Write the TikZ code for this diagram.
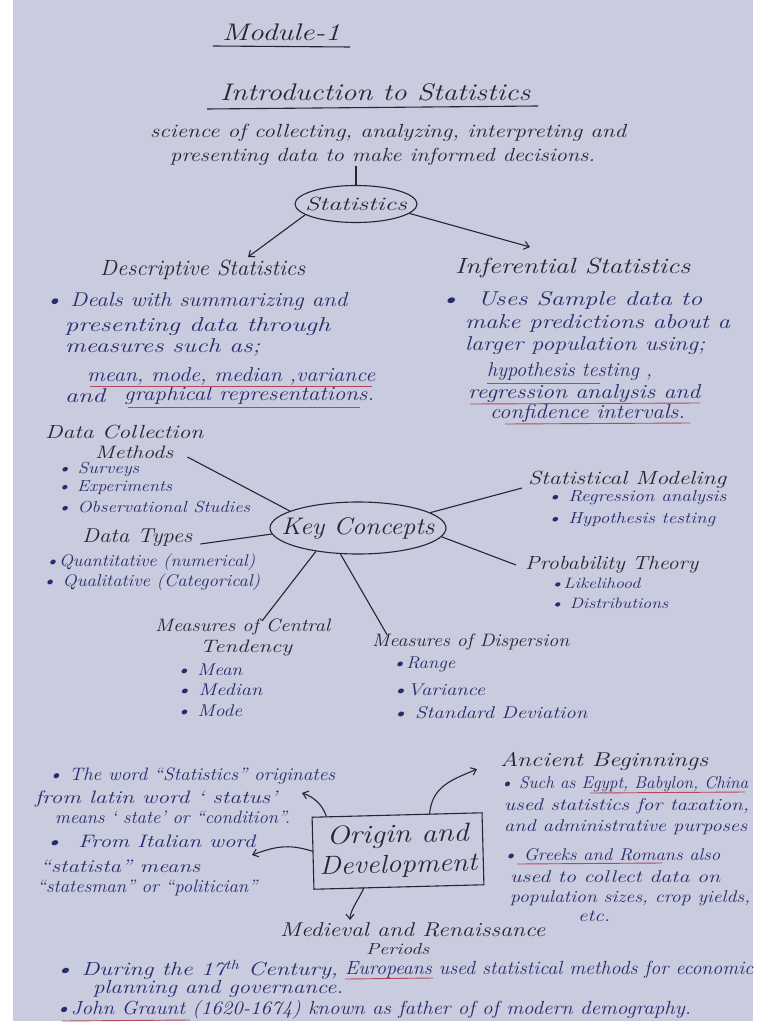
\documentclass[tikz,border=0pt]{standalone}
\usetikzlibrary{shapes.geometric,arrows.meta}
\definecolor{paper}{RGB}{201,203,222}
\definecolor{inkc}{RGB}{38,38,48}
\definecolor{bluec}{RGB}{42,42,108}
\definecolor{redc}{RGB}{178,72,92}
\newcommand{\fw}[2]{\resizebox{#1pt}{\height}{#2}}
\begin{document}
\begin{tikzpicture}[x=1pt,y=-1pt,
  txt/.style={inner sep=0pt, anchor=west, font=\fontsize{#1}{#1}\selectfont\itshape},
  ink/.style={txt=#1, text=inkc},
  blu/.style={txt=#1, text=bluec},
  conn/.style={draw=inkc, line width=1.1pt},
  arr/.style={conn, -{Straight Barb[length=5pt,width=8pt]}},
  redline/.style={draw=redc, line width=0.9pt},
  inkline/.style={draw=inkc, line width=1.1pt},
  oval/.style={ellipse, draw=inkc, line width=1.1pt, inner sep=0pt}]
\useasboundingbox (0,0) rectangle (768,1024);
\fill[white] (0,0) rectangle (768,1024);
\fill[paper] (13,0) rectangle (753,1021);

% ---------- titles ----------
\node[ink=24] (mod) at (222,32) {\fw{118}{Module-1}};
\draw[inkline] (213,46) -- (350,47);
\node[ink=24] (intro) at (220,92) {\fw{310}{Introduction to Statistics}};
\draw[inkline] (207,109) -- (538,106);
\node[ink=19] (def1) at (150,133) {\fw{476}{science of collecting, analyzing, interpreting and}};
\node[ink=19] (def2) at (170,157) {\fw{425}{presenting data to make informed decisions.}};

% ---------- Statistics ----------
\node[oval, minimum width=122pt, minimum height=37pt] (stat) at (356,204) {};
\node[ink=19, anchor=center] (statT) at (stat) {\fw{102}{Statistics}};
\draw[conn] (stat.north) -- (stat.north |- def2.south);
\coordinate (dTip) at (248,257);
\coordinate (iTip) at (530,247);
\draw[arr] (stat.192) -- (dTip);
\draw[arr] (stat.350) -- (iTip);

\node[ink=22] (desc) at (100,270) {\fw{205}{Descriptive Statistics}};
\node[ink=22] (infer) at (455,268) {\fw{235}{Inferential Statistics}};

\node[blu=20] (d1) at (45,302) {\fw{302}{\textbullet\ Deals with summarizing and}};
\node[blu=20] (d2) at (65,327) {\fw{265}{presenting data through}};
\node[blu=20] (d3) at (65,347) {\fw{195}{measures such as;}};
\node[blu=20] (d4) at (87,376) {\fw{288}{mean, mode, median ,variance}};
\node[blu=20] (d5a) at (65,396) {\fw{40}{and}};
\node[blu=20] (d5b) at (124,396) {\fw{250}{graphical representations.}};
\draw[redline] (90,386) -- (372,386);
\draw[redline] (128,407) -- (360,407);

\node[blu=20] (i1) at (440,300) {\fw{262}{\textbullet\ \ Uses Sample data to}};
\node[blu=20] (i2) at (465,323) {\fw{265}{make predictions about a}};
\node[blu=20] (i3) at (465,346) {\fw{240}{larger population using;}};
\node[blu=20] (i4) at (487,372) {\fw{165}{hypothesis testing ,}};
\node[blu=20] (i5) at (468,394) {\fw{232}{regression analysis and}};
\node[blu=20] (i6) at (490,413) {\fw{195}{confidence intervals.}};
\draw[redline] (487,383) -- (600,383);
\draw[redline] (470,404) -- (700,403);
\draw[redline] (505,424) -- (690,423);

% ---------- Key Concepts ----------
\node[oval, minimum width=176pt, minimum height=52pt] (kc) at (358,528) {};
\node[ink=24, anchor=center] (kcT) at (kc) {\fw{153}{Key Concepts}};

\node[ink=19] (dc) at (45,432) {\fw{158}{Data Collection}};
\node[ink=18] (meth) at (95,452) {\fw{78}{Methods}};
\node[blu=16] (dc1) at (57,469) {\fw{82}{\textbullet\ Surveys}};
\node[blu=16] (dc2) at (57,488) {\fw{115}{\textbullet\ Experiments}};
\node[blu=16] (dc3) at (57,507) {\fw{193}{\textbullet\ Observational Studies}};
\draw[conn] ([xshift=14pt,yshift=-5pt]meth.east) -- (kc.166);

\node[ink=20] (dt) at (82,538) {\fw{110}{Data Types}};
\node[blu=17] (dt1) at (45,562) {\fw{210}{\textbullet Quantitative (numerical)}};
\node[blu=17] (dt2) at (42,582) {\fw{218}{\textbullet\ Qualitative (Categorical)}};
\draw[conn] ([xshift=8pt,yshift=-6pt]dt.east) -- (kc.184);

\node[ink=18] (mc) at (155,627) {\fw{175}{Measures of Central}};
\node[ink=18] (mc2) at (200,648) {\fw{92}{Tendency}};
\node[blu=17] (mc3) at (176,670) {\fw{66}{\textbullet\ Mean}};
\node[blu=17] (mc4) at (176,690) {\fw{86}{\textbullet\ Median}};
\node[blu=17] (mc5) at (176,711) {\fw{66}{\textbullet\ Mode}};
\coordinate (cTip) at (262,621);
\draw[conn] (kc.209) -- (cTip);

\node[ink=18] (md) at (372,642) {\fw{197}{Measures of Dispersion}};
\node[blu=17] (md1) at (392,664) {\fw{63}{\textbullet Range}};
\node[blu=17] (md2) at (392,690) {\fw{93}{\textbullet Variance}};
\node[blu=17] (md3) at (392,713) {\fw{195}{\textbullet\ Standard Deviation}};
\draw[conn] (kc.236) -- ([xshift=15pt,yshift=-1pt]md.north west);

\node[ink=19] (sm) at (528,480) {\fw{198}{Statistical Modeling}};
\node[blu=16] (sm1) at (547,498) {\fw{179}{\textbullet\ Regression analysis}};
\node[blu=16] (sm2) at (547,520) {\fw{168}{\textbullet\ Hypothesis testing}};
\draw[conn] (kc.12) -- ([xshift=-6pt,yshift=-8pt]sm.west);

\node[ink=19] (pt) at (525,565) {\fw{173}{Probability Theory}};
\node[blu=15] (pt1) at (550,583) {\fw{90}{\textbullet Likelihood}};
\node[blu=15] (pt2) at (550,603) {\fw{118}{\textbullet\ Distributions}};
\draw[conn] (kc.354) -- ([xshift=-9pt]pt.west);

% ---------- Origin and Development ----------
\node[draw=inkc, line width=1.1pt, rotate=1.5, minimum width=170pt, minimum height=72pt, inner sep=0pt] (box) at (398,851) {};
\node[ink=26, anchor=center, align=center, rotate=1.5] (boxT) at (box) {\fw{142}{Origin and}\\[4pt]\fw{158}{Development}};

\node[blu=18] (l1) at (48,776) {\fw{287}{\textbullet\ The word “Statistics” originates}};
\node[blu=18] (l2) at (35,799) {\fw{242}{from latin word ‘ status’}};
\node[blu=18] (l3) at (55,817) {\fw{235}{means ‘ state’ or “condition”.}};
\node[blu=18] (l4) at (45,841) {\fw{210}{\textbullet\ \ From Italian word}};
\node[blu=18] (l5) at (40,866) {\fw{160}{“statista” means}};
\node[blu=18] (l6) at (37,888) {\fw{220}{“statesman” or “politician”}};

\node[ink=20] (ab) at (500,761) {\fw{208}{Ancient Beginnings}};
\node[blu=17] (r1) at (500,784) {\fw{248}{\textbullet\ Such as Egypt, Babylon, China}};
\node[blu=17] (r2) at (504,806) {\fw{245}{used statistics for taxation,}};
\node[blu=17] (r3) at (504,827) {\fw{243}{and administrative purposes}};
\node[blu=17] (r4) at (503,855) {\fw{217}{\textbullet\ Greeks and Romans also}};
\node[blu=17] (r5) at (510,877) {\fw{210}{used to collect data on}};
\node[blu=17] (r6) at (510,898) {\fw{240}{population sizes, crop yields,}};
\node[blu=17] (r7) at (578,916) {\fw{32}{etc.}};
\draw[redline] (590,793) -- (745,792);
\draw[redline] (517,864) -- (662,863);

\node[ink=20] (mr) at (280,930) {\fw{265}{Medieval and Renaissance}};
\node[ink=16] (mr2) at (366,949) {\fw{63}{Periods}};
\node[blu=19] (b1a) at (55,970) {\fw{283}{\textbullet\ During the 17\textsuperscript{th} Century,}};
\node[blu=19] (b1b) at (345,970) {\fw{408}{Europeans used statistical methods for economic}};
\node[blu=19] (b2) at (93,989) {\fw{250}{planning and governance.}};
\node[blu=19] (b3) at (55,1010) {\fw{636}{\textbullet John Graunt (1620-1674) known as father of of modern demography.}};
\draw[redline] (345,979) -- (433,978);
\draw[redline] (62,1021) -- (190,1020);

\coordinate (a1) at (302,793);
\coordinate (a2) at (477,769);
\coordinate (a3) at (252,855);
\coordinate (a4) at (350,920);
\draw[arr] ([xshift=15pt]box.north west) .. controls +(-4,-12) and +(12,4) .. (a1);
\draw[arr] ([xshift=118pt,yshift=2pt]box.north west) .. controls +(2,-30) and +(-22,10) .. (a2);
\draw[arr] ([yshift=2pt]box.west) .. controls +(-25,-8) and +(22,-8) .. (a3);
\draw[arr] ([xshift=-35pt]box.south) .. controls +(-4,10) and +(0,-10) .. (a4);
\end{tikzpicture}
\end{document}
